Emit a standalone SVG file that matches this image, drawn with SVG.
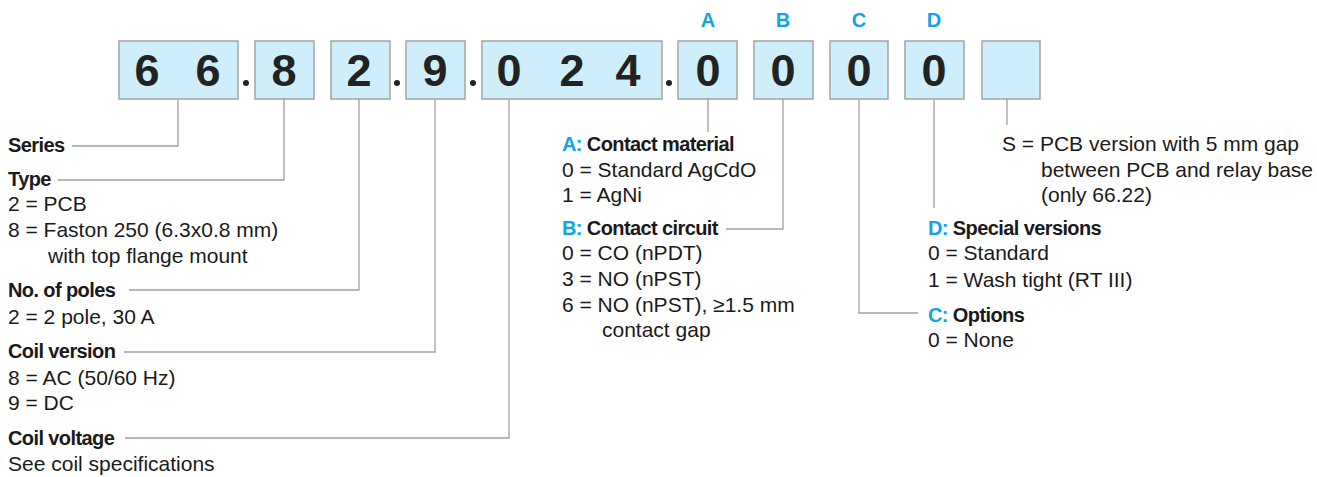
<svg xmlns="http://www.w3.org/2000/svg" width="1317" height="477" viewBox="0 0 1317 477">
<style>
.box{fill:#cdeefa;stroke:#a3a3a3;stroke-width:1.5}
.dig{font-family:"Liberation Sans",Arial,sans-serif;font-weight:bold;font-size:45px;fill:#222;text-anchor:middle}
.let{font-family:"Liberation Sans",Arial,sans-serif;font-weight:bold;font-size:20px;fill:#12a4e3;text-anchor:middle}
.h{font-family:"Liberation Sans",Arial,sans-serif;font-weight:bold;font-size:20px;letter-spacing:-0.6px;fill:#1a1a1a}
.t{font-family:"Liberation Sans",Arial,sans-serif;font-size:21px;fill:#1a1a1a}
.b{fill:#12a4e3}
.ln{fill:none;stroke:#a0a0a0;stroke-width:1.3}
.dot{fill:#222}
</style>
<rect width="1317" height="477" fill="#ffffff"/>
<g id="connectors">
<path class="ln" d="M178,99 V146 H72"/>
<path class="ln" d="M284,99 V180 H58"/>
<path class="ln" d="M359,99 V290 H129"/>
<path class="ln" d="M435,99 V352 H124"/>
<path class="ln" d="M509,99 V438 H125"/>
<path class="ln" d="M708,99 V132"/>
<path class="ln" d="M783,99 V229 H726"/>
<path class="ln" d="M859,99 V313 H918"/>
<path class="ln" d="M934,99 V208"/>
<path class="ln" d="M1007,99 V125"/>
</g>
<g id="code">
<g id="box-series"><rect class="box" x="119" y="41" width="119" height="58"/><text class="dig" x="147" y="86">6</text><text class="dig" x="208" y="86">6</text></g>
<circle class="dot" cx="246" cy="83" r="3"/>
<g id="box-type"><rect class="box" x="255" y="41" width="59" height="58"/><text class="dig" x="284" y="86">8</text></g>
<g id="box-poles"><rect class="box" x="331" y="41" width="59" height="58"/><text class="dig" x="359" y="86">2</text></g>
<circle class="dot" cx="397" cy="83" r="3"/>
<g id="box-coil"><rect class="box" x="406" y="41" width="59" height="58"/><text class="dig" x="435" y="86">9</text></g>
<circle class="dot" cx="473" cy="83" r="3"/>
<g id="box-voltage"><rect class="box" x="482" y="41" width="180" height="58"/><text class="dig" x="509" y="86">0</text><text class="dig" x="572" y="86">2</text><text class="dig" x="628" y="86">4</text></g>
<circle class="dot" cx="669" cy="83" r="3"/>
<g id="box-a"><text class="let" x="708" y="27">A</text><rect class="box" x="678" y="41" width="59" height="58"/><text class="dig" x="708" y="86">0</text></g>
<g id="box-b"><text class="let" x="783" y="27">B</text><rect class="box" x="754" y="41" width="59" height="58"/><text class="dig" x="783" y="86">0</text></g>
<g id="box-c"><text class="let" x="859" y="27">C</text><rect class="box" x="830" y="41" width="58" height="58"/><text class="dig" x="859" y="86">0</text></g>
<g id="box-d"><text class="let" x="934" y="27">D</text><rect class="box" x="905" y="41" width="59" height="58"/><text class="dig" x="934" y="86">0</text></g>
<g id="box-s"><rect class="box" x="982" y="41" width="58" height="58"/></g>
</g>
<g id="label-series"><text class="h" x="8" y="152">Series</text></g>
<g id="label-type">
<text class="h" x="8" y="186">Type</text>
<text class="t" x="8" y="211">2 = PCB</text>
<text class="t" x="8" y="237">8 = Faston 250 (6.3x0.8 mm)</text>
<text class="t" x="48" y="263">with top flange mount</text>
</g>
<g id="label-poles">
<text class="h" x="8" y="297">No. of poles</text>
<text class="t" x="8" y="324">2 = 2 pole, 30 A</text>
</g>
<g id="label-coil">
<text class="h" x="8" y="358">Coil version</text>
<text class="t" x="8" y="385">8 = AC (50/60 Hz)</text>
<text class="t" x="8" y="410">9 = DC</text>
</g>
<g id="label-voltage">
<text class="h" x="8" y="445">Coil voltage</text>
<text class="t" x="8" y="471">See coil specifications</text>
</g>
<g id="label-a">
<text class="h" x="562" y="151"><tspan class="b">A:</tspan> Contact material</text>
<text class="t" x="562" y="177">0 = Standard AgCdO</text>
<text class="t" x="562" y="202">1 = AgNi</text>
</g>
<g id="label-b">
<text class="h" x="562" y="235"><tspan class="b">B:</tspan> Contact circuit</text>
<text class="t" x="562" y="260">0 = CO (nPDT)</text>
<text class="t" x="562" y="286">3 = NO (nPST)</text>
<text class="t" x="562" y="312">6 = NO (nPST), ≥1.5 mm</text>
<text class="t" x="602" y="337">contact gap</text>
</g>
<g id="label-d">
<text class="h" x="928" y="235"><tspan class="b">D:</tspan> Special versions</text>
<text class="t" x="928" y="260">0 = Standard</text>
<text class="t" x="928" y="287">1 = Wash tight (RT III)</text>
</g>
<g id="label-c">
<text class="h" x="928" y="322"><tspan class="b">C:</tspan> Options</text>
<text class="t" x="928" y="347">0 = None</text>
</g>
<g id="label-s">
<text class="t" x="1002" y="151">S = PCB version with 5 mm gap</text>
<text class="t" x="1041" y="177">between PCB and relay base</text>
<text class="t" x="1041" y="202">(only 66.22)</text>
</g>
</svg>
